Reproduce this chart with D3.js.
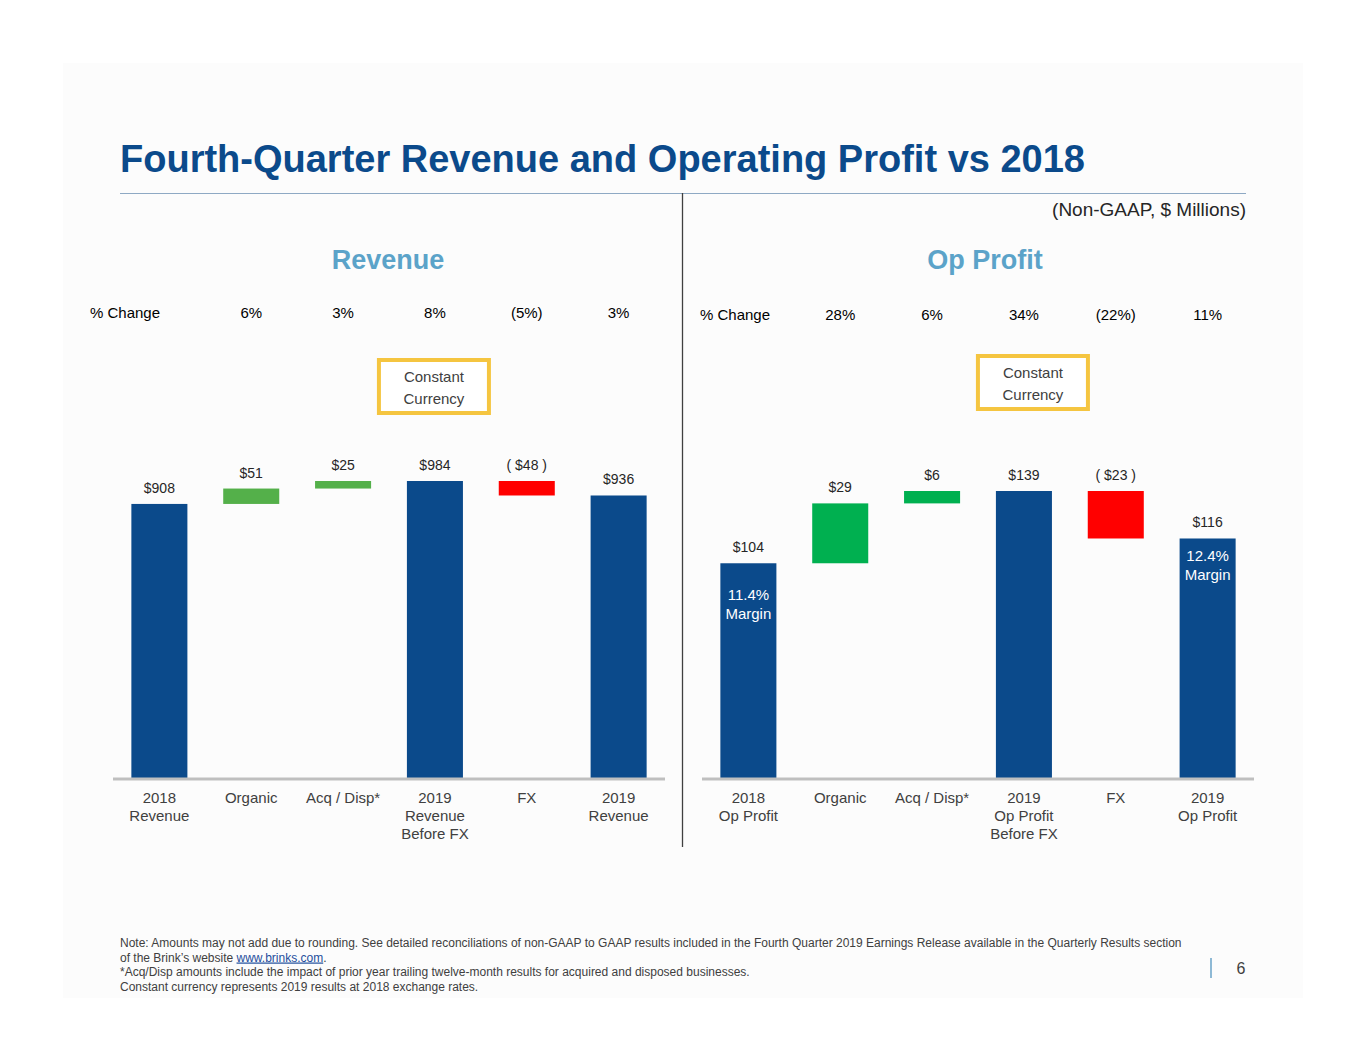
<!DOCTYPE html>
<html>
<head>
<meta charset="utf-8">
<script src="https://d3js.org/d3.v7.min.js"></script>
<style>
  body { margin: 0; background: #ffffff; }
  svg { display: block; font-family: "Liberation Sans", Arial, sans-serif; }
</style>
</head>
<body>
<svg id="slide" width="1365" height="1055"></svg>
<script>
// categories (multi-line labels split with |)
var revCategories = ["2018|Revenue", "Organic", "Acq / Disp*", "2019|Revenue|Before FX", "FX", "2019|Revenue"];
var opCategories = ["2018|Op Profit", "Organic", "Acq / Disp*", "2019|Op Profit|Before FX", "FX", "2019|Op Profit"];

// waterfall values: "total" bars start at zero, "step" bars float on the running total
var revValues = [908, 51, 25, 984, -48, 936];
var opValues = [104, 29, 6, 139, -23, 116];
var barKinds = ["total", "step", "step", "total", "step", "total"];

var revLabels = ["$908", "$51", "$25", "$984", "( $48 )", "$936"];
var opLabels = ["$104", "$29", "$6", "$139", "( $23 )", "$116"];

var revChange = ["6%", "3%", "8%", "(5%)", "3%"];
var opChange = ["28%", "6%", "34%", "(22%)", "11%"];

var opMargins = [["11.4%", "Margin"], null, null, null, null, ["12.4%", "Margin"]];

var footNotes = [
    "Note: Amounts may not add due to rounding. See detailed reconciliations of non-GAAP to GAAP results included in the Fourth Quarter 2019 Earnings Release available in the Quarterly Results section",
    "of the Brink\u2019s website |www.brinks.com|.",
    "*Acq/Disp amounts include the impact of prior year trailing twelve-month results for acquired and disposed businesses.",
    "Constant currency represents 2019 results at 2018 exchange rates."
];

var navy = "#0b4a8b";
var svg = d3.select("#slide");

// slide panel
svg.append("rect").attr("x", 63).attr("y", 63).attr("width", 1240).attr("height", 935).attr("fill", "#fcfcfc");

svg.append("text")
    .attr("x", 120).attr("y", 172)
    .attr("font-size", 38).attr("font-weight", "bold").attr("fill", navy)
    .text("Fourth-Quarter Revenue and Operating Profit vs 2018");

svg.append("line").attr("x1", 120).attr("x2", 1246).attr("y1", 193.5).attr("y2", 193.5)
    .attr("stroke", "#8ea9c4").attr("stroke-width", 1);
svg.append("line").attr("x1", 682.5).attr("x2", 682.5).attr("y1", 193).attr("y2", 847)
    .attr("stroke", "#404040").attr("stroke-width", 1.3);

svg.append("text")
    .attr("x", 1246).attr("y", 216).attr("text-anchor", "end")
    .attr("font-size", 19).attr("fill", "#262626")
    .text("(Non-GAAP, $ Millions)");

function drawWaterfall(opts) {
    var g = svg.append("g");
    var baseY = 778;

    var x = d3.scaleBand()
        .domain(d3.range(opts.categories.length))
        .range(opts.xRange)
        .paddingInner(0.39)
        .paddingOuter(0.2);

    var y = d3.scaleLinear().domain([0, opts.maxValue]).range([baseY, opts.topY]);

    // running total -> [start, end] per bar
    var running = 0;
    var bars = opts.values.map(function(v, i) {
        var lo, hi;
        if (opts.kinds[i] == "total") {
            running = v;
            lo = 0; hi = v;
        } else {
            lo = Math.min(running, running + v);
            hi = Math.max(running, running + v);
            running = running + v;
        }
        return { i: i, v: v, lo: lo, hi: hi, kind: opts.kinds[i] };
    });

    g.append("text")
        .attr("x", opts.titleX).attr("y", 269).attr("text-anchor", "middle")
        .attr("font-size", 27).attr("font-weight", "bold").attr("fill", "#5ba3c9")
        .text(opts.title);

    // % change row
    g.append("text")
        .attr("x", opts.changeX).attr("y", opts.changeY)
        .attr("font-size", 15).attr("fill", "#000")
        .text("% Change");
    g.selectAll(".chg")
        .data(opts.change)
        .enter()
        .append("text")
        .attr("class", "chg")
        .attr("x", (d, i) => x(i + 1) + x.bandwidth() / 2)
        .attr("y", opts.changeY)
        .attr("text-anchor", "middle")
        .attr("font-size", 15).attr("fill", "#000")
        .text(d => d);

    // constant currency box near the "before FX" column
    var cx = x(3) + x.bandwidth() / 2 + opts.boxShift;
    g.append("rect")
        .attr("x", cx - 55).attr("y", opts.boxY)
        .attr("width", 110).attr("height", 53)
        .attr("fill", "#fff").attr("stroke", "#f5c540").attr("stroke-width", 4);
    g.append("text").attr("x", cx).attr("y", opts.boxY + 22).attr("text-anchor", "middle")
        .attr("font-size", 15).attr("fill", "#404040").text("Constant");
    g.append("text").attr("x", cx).attr("y", opts.boxY + 44).attr("text-anchor", "middle")
        .attr("font-size", 15).attr("fill", "#404040").text("Currency");

    // bars
    g.selectAll(".bar")
        .data(bars)
        .enter()
        .append("rect")
        .attr("class", "bar")
        .attr("x", d => x(d.i))
        .attr("width", x.bandwidth())
        .attr("y", d => y(d.hi))
        .attr("height", d => y(d.lo) - y(d.hi))
        .attr("fill", d => d.kind == "total" ? navy : (d.v < 0 ? "#ff0000" : opts.green));

    // baseline
    g.append("line")
        .attr("x1", opts.xRange[0]).attr("x2", opts.xRange[1])
        .attr("y1", baseY + 1).attr("y2", baseY + 1)
        .attr("stroke", "#bfbfbf").attr("stroke-width", 3);

    // value labels
    g.selectAll(".val")
        .data(bars)
        .enter()
        .append("text")
        .attr("class", "val")
        .attr("x", d => x(d.i) + x.bandwidth() / 2)
        .attr("y", d => y(d.hi) - 11)
        .attr("text-anchor", "middle")
        .attr("font-size", 14).attr("fill", "#262626")
        .text((d, i) => opts.labels[i]);

    // margin labels inside bars
    if (opts.margins) {
        bars.forEach(function(d) {
            var m = opts.margins[d.i];
            if (!m) return;
            m.forEach(function(line, k) {
                g.append("text")
                    .attr("x", x(d.i) + x.bandwidth() / 2)
                    .attr("y", y(d.hi) + opts.marginOffset[d.i] + k * 19)
                    .attr("text-anchor", "middle")
                    .attr("font-size", 15).attr("fill", "#fff")
                    .text(line);
            });
        });
    }

    // category labels
    var cat = g.selectAll(".cat")
        .data(opts.categories)
        .enter()
        .append("text")
        .attr("class", "cat")
        .attr("text-anchor", "middle")
        .attr("font-size", 15).attr("fill", "#404040");
    cat.selectAll("tspan")
        .data((d, i) => d.split("|").map(s => ({ s: s, i: i })))
        .enter()
        .append("tspan")
        .attr("x", d => x(d.i) + x.bandwidth() / 2)
        .attr("y", (d, k) => 803 + k * 18)
        .text(d => d.s);
}

drawWaterfall({
    title: "Revenue", titleX: 388,
    categories: revCategories, values: revValues, kinds: barKinds,
    labels: revLabels, change: revChange,
    xRange: [113, 665], maxValue: 984, topY: 481,
    changeX: 90, changeY: 318, boxY: 360, boxShift: -1,
    green: "#54b04a"
});

drawWaterfall({
    title: "Op Profit", titleX: 985,
    categories: opCategories, values: opValues, kinds: barKinds,
    labels: opLabels, change: opChange, margins: opMargins,
    marginOffset: [37, 0, 0, 0, 0, 23],
    xRange: [702, 1254], maxValue: 139, topY: 491,
    changeX: 700, changeY: 320, boxY: 356, boxShift: 9,
    green: "#00b050"
});

// footnotes
var notes = svg.append("g");
footNotes.forEach(function(line, i) {
    var t = notes.append("text")
        .attr("x", 120).attr("y", 947 + i * 14.5)
        .attr("font-size", 12).attr("fill", "#404040");
    line.split("|").forEach(function(part, k) {
        var sp = t.append("tspan").text(part);
        if (k == 1) sp.attr("fill", "#1f4e9c").attr("text-decoration", "underline");
    });
});

svg.append("line").attr("x1", 1211).attr("x2", 1211).attr("y1", 958).attr("y2", 978)
    .attr("stroke", "#6aa3c8").attr("stroke-width", 1.5);
svg.append("text").attr("x", 1241).attr("y", 974).attr("text-anchor", "middle")
    .attr("font-size", 16).attr("fill", "#404040").text("6");
</script>
</body>
</html>
